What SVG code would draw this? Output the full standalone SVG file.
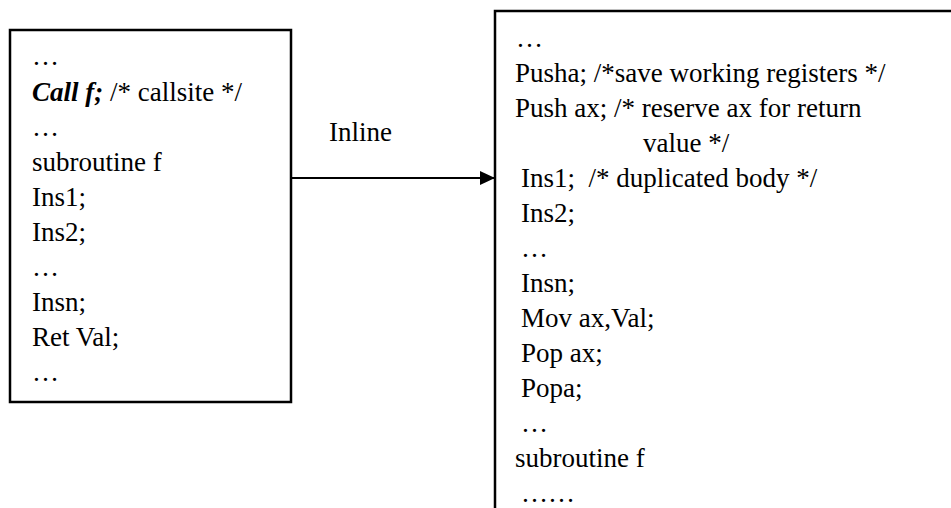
<svg xmlns="http://www.w3.org/2000/svg" width="951" height="508" viewBox="0 0 951 508">
<style>
text{font-family:"Liberation Serif","Times New Roman",serif;font-size:27px;fill:#000;white-space:pre}
.box{fill:#fff;stroke:#000;stroke-width:2.5}
.conn{stroke:#000;stroke-width:2;fill:none}
</style>
<defs>
<marker id="ah" markerWidth="16" markerHeight="14" refX="15" refY="7" orient="auto" markerUnits="userSpaceOnUse">
<path d="M0,0 L15,7 L0,14 z" fill="#000"/>
</marker>
</defs>
<rect width="951" height="508" fill="#fff"/>
<g id="source">
<rect class="box" x="10" y="30" width="281" height="372"/>
<text x="32" y="65">…</text>
<text x="32" y="101"><tspan font-weight="bold" font-style="italic">Call f;</tspan> /* callsite */</text>
<text x="32" y="136">…</text>
<text x="32" y="171">subroutine f</text>
<text x="32" y="206">Ins1;</text>
<text x="32" y="241">Ins2;</text>
<text x="32" y="276">…</text>
<text x="32" y="311">Insn;</text>
<text x="32" y="346">Ret Val;</text>
<text x="32" y="381">…</text>
</g>
<g id="target">
<path class="box" d="M953,11 L495,11 L495,510"/>
<text x="516" y="47">…</text>
<text x="515" y="82">Pusha; /*save working registers */</text>
<text x="515" y="117">Push ax; /* reserve ax for return</text>
<text x="643" y="152">value */</text>
<text x="521" y="187">Ins1;  /* duplicated body */</text>
<text x="521" y="222">Ins2;</text>
<text x="521" y="257">…</text>
<text x="521" y="292">Insn;</text>
<text x="521" y="327">Mov ax,Val;</text>
<text x="521" y="362">Pop ax;</text>
<text x="521" y="397">Popa;</text>
<text x="521" y="432">…</text>
<text x="515" y="467">subroutine f</text>
<text x="521" y="502">……</text>
</g>
<g id="connectors">
<line class="conn" x1="291" y1="178" x2="495" y2="178" marker-end="url(#ah)"/>
<text x="329" y="141">Inline</text>
</g>
</svg>
